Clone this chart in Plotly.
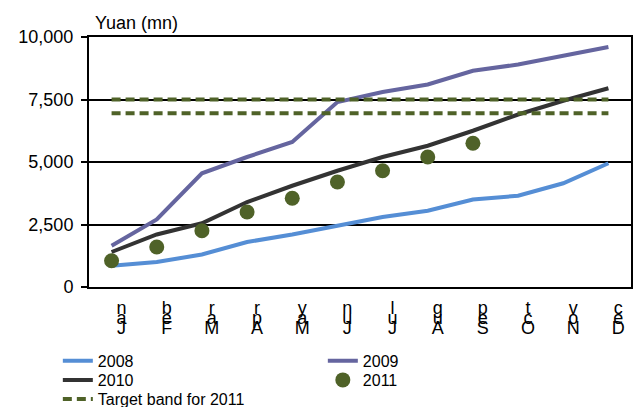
import plotly.graph_objects as go

months = ["Jan", "Feb", "Mar", "Apr", "May", "Jun", "Jul", "Aug", "Sep", "Oct", "Nov", "Dec"]
y2008 = [850, 1000, 1300, 1800, 2100, 2450, 2800, 3050, 3500, 3650, 4150, 4950]
y2009 = [1650, 2700, 4550, 5200, 5800, 7400, 7800, 8100, 8650, 8900, 9250, 9600]
y2010 = [1400, 2100, 2550, 3400, 4050, 4650, 5200, 5650, 6250, 6900, 7450, 7950]
y2011 = [1050, 1600, 2250, 3000, 3550, 4200, 4650, 5200, 5750]
target_high = 7500
target_low = 6950
yticks = [0, 2500, 5000, 7500, 10000]

FONT = "Liberation Sans, Arial, sans-serif"
GREEN = "#4f6228"

fig = go.Figure()
fig.add_trace(go.Scatter(x=months, y=y2008, mode="lines", name="2008", legend="legend",
                         line=dict(color="#558ed5", width=4)))
fig.add_trace(go.Scatter(x=months, y=y2009, mode="lines", name="2009", legend="legend",
                         line=dict(color="#65659f", width=4)))
fig.add_trace(go.Scatter(x=months, y=y2010, mode="lines", name="2010", legend="legend2",
                         line=dict(color="#333333", width=4)))
fig.add_trace(go.Scatter(x=months[:len(y2011)], y=y2011, mode="markers", name="2011",
                         legend="legend2", marker=dict(color=GREEN, size=15)))
band_x = months + [None] + months
band_y = [target_high] * len(months) + [None] + [target_low] * len(months)
fig.add_trace(go.Scatter(x=band_x, y=band_y, mode="lines", name="Target band for 2011",
                         legend="legend3", connectgaps=False,
                         line=dict(color=GREEN, width=4, dash="9px,5px")))

# stacked-letter month labels (last letter on top, first at bottom),
# drawn slightly right of each category like the original's rotated text
rows = [[m[2] for m in months], [m[1] for m in months], [m[0] for m in months]]
standoffs = [8, 18, 28]
label_shift = 0.22
axis_common = dict(overlaying="x", anchor="y", side="bottom",
                   range=[-0.5 - label_shift, 11.5 - label_shift],
                   tickmode="array", tickvals=list(range(12)), showgrid=False,
                   showline=False, zeroline=False, ticks="",
                   tickfont=dict(family=FONT, size=18, color="black"))
layout_axes = {}
for i, (r, s) in enumerate(zip(rows, standoffs)):
    layout_axes[f"xaxis{i+2}"] = dict(ticktext=r, ticklabelstandoff=s, **axis_common)
    # empty helper trace so the label axis is drawn
    fig.add_trace(go.Scatter(x=[0, 11], y=[None, None], xaxis=f"x{i+2}", yaxis="y",
                             mode="lines", showlegend=False, hoverinfo="skip"))

legend_common = dict(orientation="h", x=-0.0575, xanchor="left", yanchor="middle",
                     entrywidth=220, font=dict(family=FONT, size=16, color="black"),
                     bgcolor="rgba(0,0,0,0)", traceorder="normal")

fig.update_layout(
    width=634, height=407,
    margin=dict(l=89, r=3, t=37, b=120, autoexpand=False),
    paper_bgcolor="white", plot_bgcolor="white",
    font=dict(family=FONT, size=18, color="black"),
    showlegend=True,
    xaxis=dict(type="category", range=[-0.5, 11.5], showticklabels=False,
               showgrid=False, zeroline=False, showline=True, mirror=True,
               linecolor="black", linewidth=2, ticks=""),
    yaxis=dict(range=[0, 10000], tickmode="array", tickvals=yticks,
               tickformat=",", showgrid=True, gridcolor="black", gridwidth=2,
               zeroline=False, showline=True, mirror=True, linecolor="black",
               linewidth=2, ticks="outside", ticklen=6, tickwidth=2,
               tickcolor="black", ticklabelstandoff=4,
               tickfont=dict(family=FONT, size=18, color="black")),
    legend=dict(y=-0.295, **legend_common),
    legend2=dict(y=-0.372, **legend_common),
    legend3=dict(y=-0.448, **legend_common),
    annotations=[dict(text="Yuan (mn)", xref="paper", yref="paper", x=0, y=1,
                      xanchor="left", yanchor="bottom", xshift=4, yshift=2,
                      showarrow=False, font=dict(family=FONT, size=18, color="black"))],
    **layout_axes,
)

fig.write_html("out.html")
